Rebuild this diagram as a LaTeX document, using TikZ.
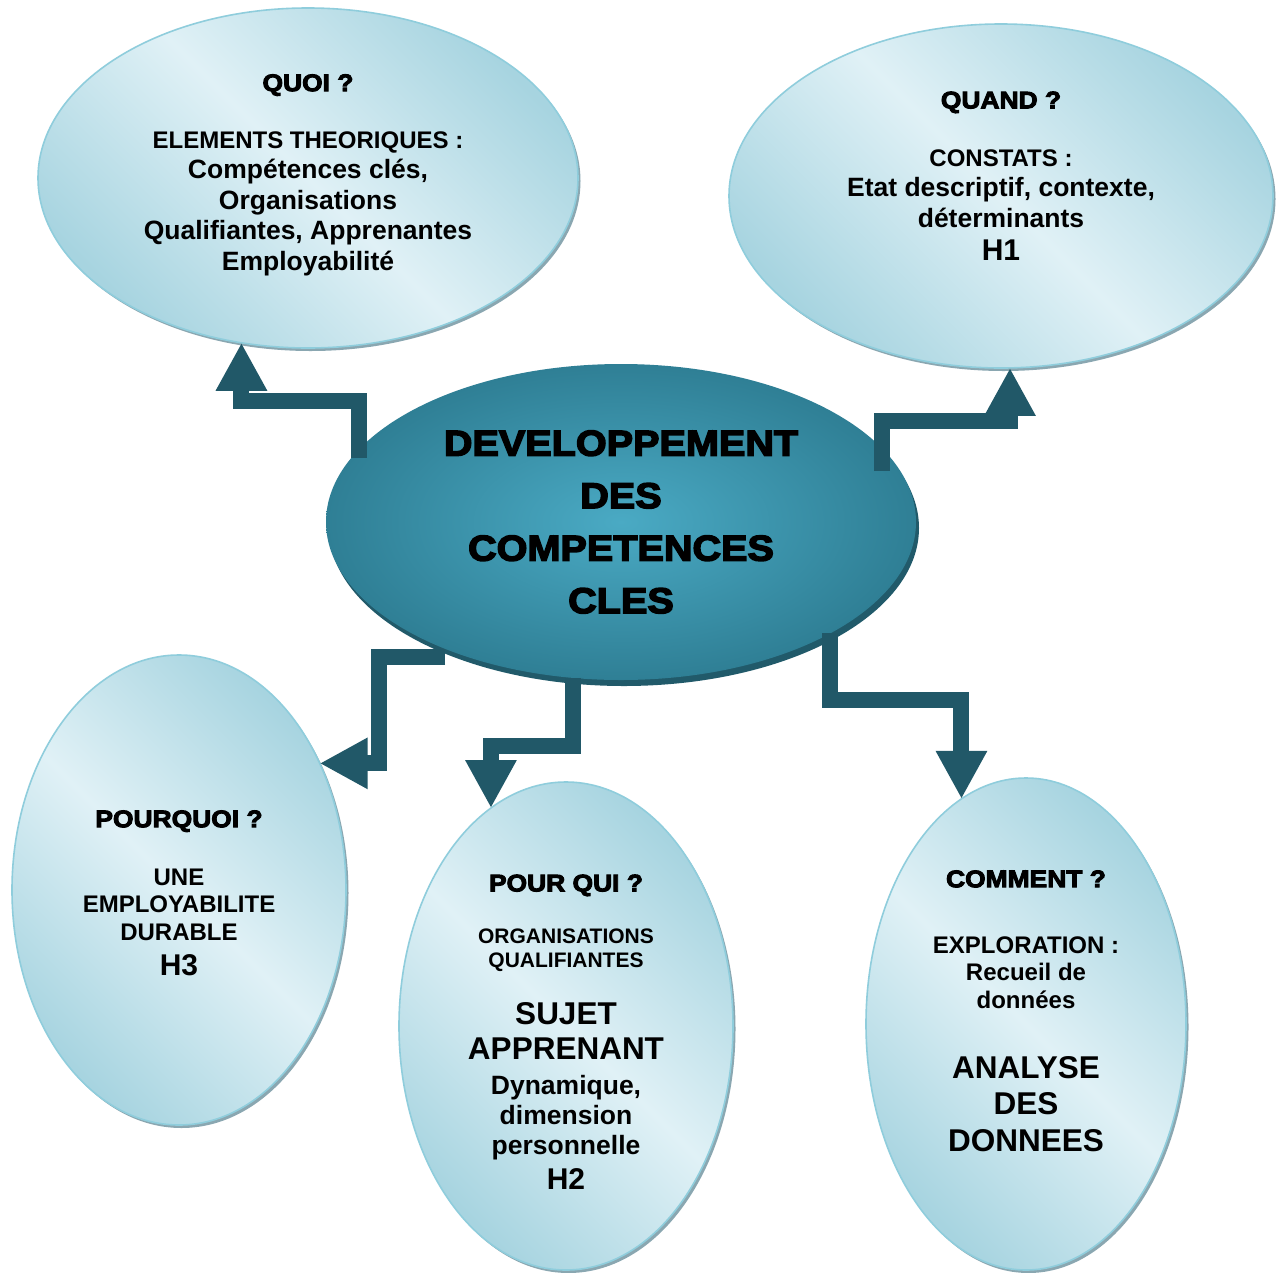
\documentclass[tikz,border=0pt]{standalone}
\usepackage{fontspec}
\setmainfont{Liberation Sans}
\newfontfamily\blackfont[FakeBold=4,FakeStretch=1.1]{Liberation Sans Bold}
\usetikzlibrary{shapes.geometric,arrows.meta,shadows}
\definecolor{bubbledark}{HTML}{A7D4E0}
\definecolor{bubblelight}{HTML}{E0F1F6}
\definecolor{bubbleline}{HTML}{8FCDDC}
\definecolor{bubbleshadow}{HTML}{8AA7B1}
\definecolor{coreinner}{HTML}{4AAAC4}
\definecolor{coreouter}{HTML}{2F7F95}
\definecolor{corerim}{HTML}{215A6A}
\definecolor{arrowteal}{HTML}{215868}
\def\hd{\blackfont\fontsize{24}{28}\selectfont}
\tikzset{
	bubble/.style={ellipse, draw=bubbleline, line width=1.6pt, inner sep=0pt, outer sep=0pt,
		top color=bubbledark, bottom color=bubbledark, middle color=bubblelight, shading angle=-45,
		drop shadow={shadow xshift=2.5pt, shadow yshift=-3pt, fill=bubbleshadow, opacity=1}},
	core/.style={ellipse, inner sep=0pt, outer sep=0pt, inner color=coreinner, outer color=coreouter,
		drop shadow={shadow xshift=3pt, shadow yshift=-6pt, fill=corerim, opacity=1}},
	bubbletext/.style={align=center, font=\bfseries\fontsize{26.5}{30.5}\selectfont},
	elbow/.style={draw=arrowteal, line width=16pt, line join=miter, -{Triangle[length=48pt,width=48pt]}},
}

\begin{document}
\begin{tikzpicture}[x=1pt, y=-1pt]
		%%%%% START %%%%%
		
		\fill[white] (0,0) rectangle (1285,1272);
		\useasboundingbox (0,0) rectangle (1285,1272);
		
		% outer bubbles
		\node[bubble, minimum width=540pt, minimum height=340pt] (quoi) at (308,178) {};
		\node[bubble, minimum width=544pt, minimum height=344pt] (quand) at (1001,196) {};
		\node[bubble, minimum width=334pt, minimum height=470pt] (pourquoi) at (179,890) {};
		\node[bubble, minimum width=334pt, minimum height=488pt] (pourqui) at (566,1026) {};
		\node[bubble, minimum width=320pt, minimum height=492pt] (comment) at (1026,1024) {};
		
		\node[bubbletext] (quoi-txt) at (308,175) {{\hd QUOI ?}\\[26.5pt]
			{\fontsize{24}{28}\selectfont ELEMENTS THEORIQUES :}\\
			Compétences clés,\\
			Organisations\\
			Qualifiantes, Apprenantes\\
			Employabilité};
		
		\node[bubbletext] (quand-txt) at (1001,176) {{\hd QUAND ?}\\[27.5pt]
			{\fontsize{24}{28}\selectfont CONSTATS :}\\
			Etat descriptif, contexte,\\
			déterminants\\[2.5pt]
			{\fontsize{30}{34}\selectfont H1}};
		
		\node[bubbletext, font=\bfseries\fontsize{24}{27.5}\selectfont] (pourquoi-txt) at (179,893) {{\hd POURQUOI ?}\\[30.5pt]
			UNE\\
			EMPLOYABILITE\\
			DURABLE\\[7.5pt]
			{\fontsize{30}{34}\selectfont H3}};
		
		\node[bubbletext, font=\bfseries\fontsize{26.5}{30}\selectfont] (pourqui-txt) at (566,1032) {{\hd POUR QUI ?}\\[22pt]
			{\fontsize{21}{24}\selectfont ORGANISATIONS}\\[-6pt]
			{\fontsize{21}{24}\selectfont QUALIFIANTES}\\[27pt]
			{\fontsize{31.5}{35}\selectfont SUJET}\\[5pt]
			{\fontsize{31.5}{35}\selectfont APPRENANT}\\[5pt]
			Dynamique,\\
			dimension\\
			personnelle\\[5pt]
			{\fontsize{30}{34}\selectfont H2}};
		
		\node[bubbletext, font=\bfseries\fontsize{24}{27.5}\selectfont] (comment-txt) at (1026,1011) {{\hd COMMENT ?}\\[38.5pt]
			EXPLORATION :\\
			Recueil de\\
			données\\[42.5pt]
			{\fontsize{31.5}{36}\selectfont ANALYSE}\\[8.5pt]
			{\fontsize{31.5}{36}\selectfont DES}\\[9.5pt]
			{\fontsize{31.5}{36}\selectfont DONNEES}};
		
		% centre
		\node[core, minimum width=590pt, minimum height=316pt, align=center,
			font=\blackfont\fontsize{36}{52.5}\selectfont] (dev) at (621,522)
			{DEVELOPPEMENT\\ DES\\ COMPETENCES\\ CLES};
		
		% arrows
		\coordinate (t-quoi) at (359,458);
		\coordinate (t-quand) at (882,471);
		\coordinate (t-pourquoi) at (445,657);
		
		\draw[elbow] (t-quoi) -- ++(0,-57) -| (quoi.248.2);
		\draw[elbow] (t-quand) -- ++(0,-50) -| (quand.273.7);
		\draw[elbow] (t-pourquoi) -- ++(-66,0) |- (pourquoi.42);
		\draw[elbow] (dev.253.9) -- ++(0,68) -| (pourqui.109.7);
		\draw[elbow] (dev.332.4) -- ++(0,67) -| (comment.106.6);
		
		%%%%% END %%%%%
\end{tikzpicture}
\end{document}
